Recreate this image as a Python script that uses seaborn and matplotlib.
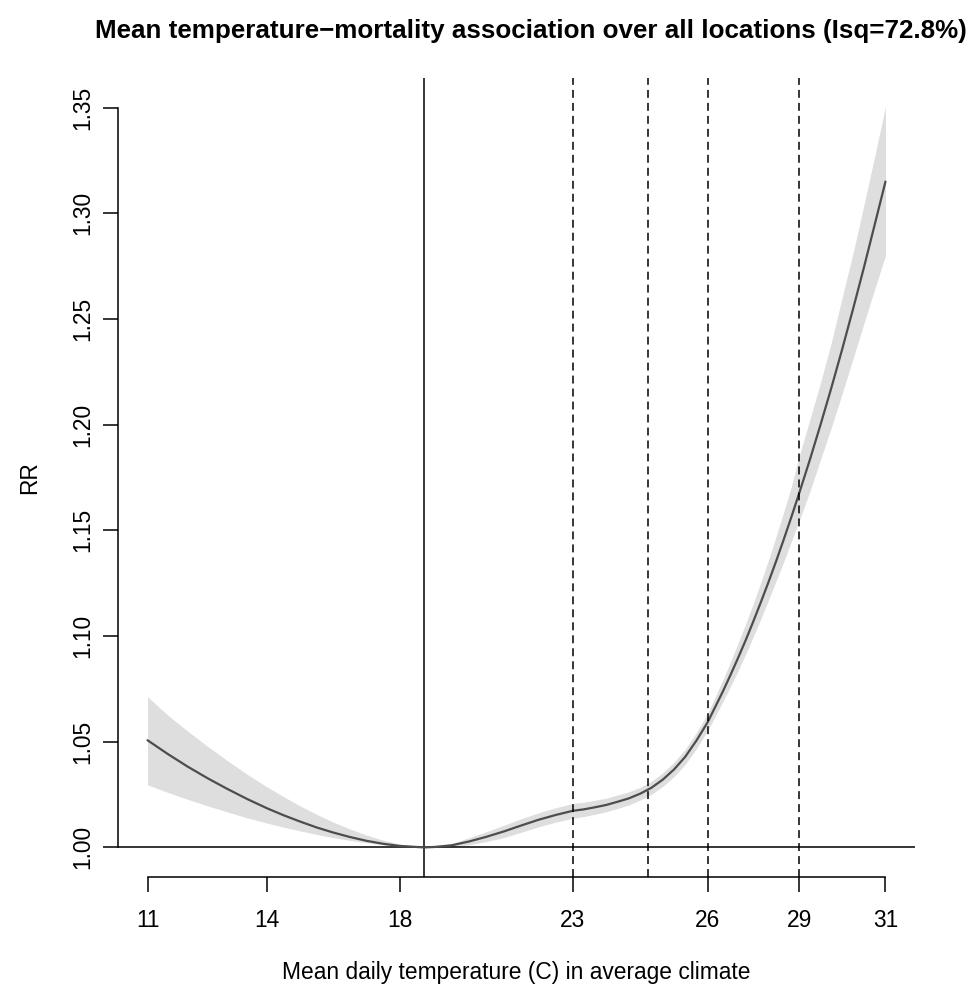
import numpy as np
import pandas as pd
import matplotlib
matplotlib.use("Agg")
import matplotlib.pyplot as plt
import seaborn as sns

# ---- data ----
TEMP = [11, 11.5, 12, 12.5, 13, 13.5, 14, 14.5, 15, 15.5, 16, 16.5, 17, 17.5, 18,
        18.69, 19, 19.5, 20, 20.5, 21, 21.5, 22, 22.5, 23, 23.25, 23.5, 23.75,
        24, 24.25, 24.5, 24.75, 25, 25.25, 25.5, 25.75, 26, 26.25, 26.5, 26.75,
        27, 27.25, 27.5, 27.75, 28, 28.25, 28.5, 28.75, 29, 29.25, 29.5, 29.75,
        30, 30.25, 30.5, 30.75, 31]
RR = [1.0507, 1.0443, 1.0383, 1.0328, 1.0277, 1.0229, 1.0185, 1.0152, 1.0122,
      1.0094, 1.0070, 1.0049, 1.0031, 1.0017, 1.0007,
      1.0000, 1.0002, 1.0010, 1.0028, 1.0050, 1.0075, 1.0103, 1.0130, 1.0153,
      1.0173, 1.0180, 1.0190, 1.0201,
      1.0216, 1.0232, 1.0254, 1.0282, 1.0320, 1.0368, 1.0428, 1.0505,
      1.0592, 1.0665, 1.0738, 1.0816,
      1.0897, 1.0981, 1.1070, 1.1162, 1.1257, 1.1356, 1.1459, 1.1565,
      1.1675, 1.1835, 1.2003, 1.2177,
      1.2359, 1.2548, 1.2743, 1.2946, 1.3150]
RR_LOW = [1.0296, 1.0261, 1.0228, 1.0197, 1.0168, 1.0140, 1.0115, 1.0096, 1.0078,
          1.0061, 1.0046, 1.0033, 1.0022, 1.0012, 1.0005,
          1.0000, 1.0000, 1.0002, 1.0012, 1.0028, 1.0046, 1.0071, 1.0097, 1.0119,
          1.0138, 1.0146, 1.0157, 1.0169,
          1.0184, 1.0201, 1.0224, 1.0251, 1.0288, 1.0334, 1.0392, 1.0467,
          1.0552, 1.0621, 1.0690, 1.0761,
          1.0837, 1.0915, 1.0998, 1.1083, 1.1172, 1.1262, 1.1354, 1.1449,
          1.1545, 1.1685, 1.1838, 1.1989,
          1.2149, 1.2313, 1.2478, 1.2641, 1.2800]
RR_HIGH = [1.0713, 1.0627, 1.0551, 1.0479, 1.0411, 1.0346, 1.0286, 1.0240, 1.0196,
           1.0156, 1.0119, 1.0087, 1.0058, 1.0034, 1.0015,
           1.0000, 1.0005, 1.0018, 1.0046, 1.0074, 1.0104, 1.0135, 1.0163, 1.0187,
           1.0208, 1.0214, 1.0223, 1.0233,
           1.0248, 1.0263, 1.0284, 1.0313, 1.0352, 1.0402, 1.0464, 1.0543,
           1.0634, 1.0713, 1.0793, 1.0878,
           1.0967, 1.1059, 1.1155, 1.1257, 1.1362, 1.1474, 1.1589, 1.1710,
           1.1850, 1.2025, 1.2203, 1.2392,
           1.2604, 1.2813, 1.3038, 1.3270, 1.3505]

X_TICKS = [11, 14, 18, 23, 26, 29, 31]               # temperature tick labels
X_TICK_PCT = [0, 16.2, 34.2, 57.6, 75.9, 88.3, 100]  # their place on the percentile axis
Y_TICKS = [1.00, 1.05, 1.10, 1.15, 1.20, 1.25, 1.30, 1.35]
MMT = 18.69
CUTS = [23, 24.67, 26, 29]

TITLE = "Mean temperature\u2212mortality association over all locations (Isq=72.8%)"
XLABEL = "Mean daily temperature (C) in average climate"
YLABEL = "RR"

df = pd.DataFrame({"temp": TEMP, "rr": RR, "low": RR_LOW, "high": RR_HIGH})

# ---- non-linear (percentile) temperature axis ----
TA = np.array(X_TICKS, float)
PA = np.array(X_TICK_PCT, float)


def _map(v, xs, ys):
    v = np.asarray(v, float)
    out = np.interp(v, xs, ys)
    lo = v < xs[0]
    hi = v > xs[-1]
    out = np.where(lo, ys[0] + (v - xs[0]) * (ys[1] - ys[0]) / (xs[1] - xs[0]), out)
    out = np.where(hi, ys[-1] + (v - xs[-1]) * (ys[-1] - ys[-2]) / (xs[-1] - xs[-2]), out)
    return out


def fwd(v):
    return _map(v, TA, PA)


def inv(v):
    return _map(v, PA, TA)


sns.set_theme(style="white")
plt.rcParams["font.family"] = ["Liberation Sans", "DejaVu Sans"]

fig = plt.figure(figsize=(9.72, 9.9), dpi=100)
ax = fig.add_axes([118 / 972, 1 - 877 / 990, 797 / 972, 799 / 990])
ax.set_xscale("function", functions=(fwd, inv))

ax.fill_between(df["temp"], df["low"], df["high"], color="#dedede", lw=0, zorder=1)
sns.lineplot(data=df, x="temp", y="rr", ax=ax, color="#4d4d4d", lw=1.6,
             zorder=3, sort=False)

ax.axhline(1.0, color="black", lw=1.1, zorder=2)
ax.axvline(MMT, color="black", lw=1.1, zorder=2)
for c in CUTS:
    ax.axvline(c, color="black", lw=1.1, ls=(0, (5.2, 3.3)), zorder=4)

ax.set_xlim(inv(-4), inv(104))
ax.set_ylim(1.0 - 0.014, 1.35 + 0.014)

ax.set_xticks(X_TICKS)
ax.set_xticklabels([str(t) for t in X_TICKS])
ax.set_yticks(Y_TICKS)
ax.set_yticklabels([f"{v:.2f}" for v in Y_TICKS])
ax.xaxis.set_minor_locator(matplotlib.ticker.NullLocator())

for s in ["top", "right"]:
    ax.spines[s].set_visible(False)
ax.spines["left"].set_bounds(1.0, 1.35)
ax.spines["bottom"].set_bounds(11, 31)
for s in ["left", "bottom"]:
    ax.spines[s].set_linewidth(1.1)
    ax.spines[s].set_color("black")

ax.tick_params(axis="both", which="major", direction="out", length=10.5, width=1.1,
               color="black", labelsize=16.4, labelcolor="black",
               bottom=True, left=True, top=False, right=False)
ax.tick_params(axis="x", pad=12.5)
ax.tick_params(axis="y", pad=6.5)
for lab in ax.get_yticklabels():
    lab.set_rotation(90)
    lab.set_va("center")

ax.set_xlabel(XLABEL, fontsize=16.4, color="black", va="center")
ax.xaxis.set_label_coords(0.5, (877 - 972) / 799)
ax.set_ylabel(YLABEL, fontsize=16.4, color="black", va="center")
ax.yaxis.set_label_coords((30 - 118) / 797, 0.5)
ax.set_facecolor("white")
ax.grid(False)

fig.text(531 / 972, 1 - 31 / 990, TITLE, ha="center", va="center",
         fontsize=18.7, fontweight="bold", color="black")

fig.savefig("out.png", dpi=100, facecolor="white")
